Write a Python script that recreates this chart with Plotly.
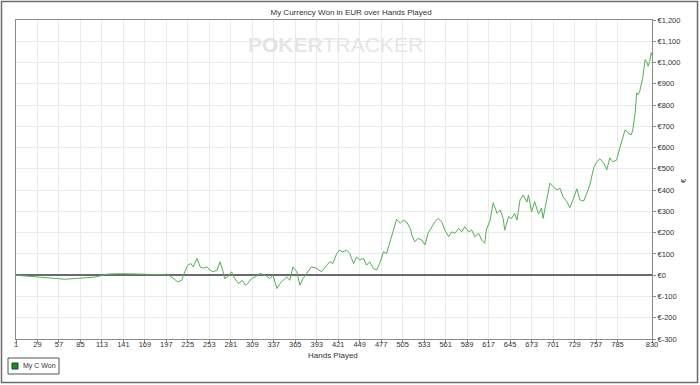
import plotly.graph_objects as go

hands = [1, 19, 39, 65, 84, 104, 120, 137, 163, 189, 198, 204, 212, 217, 221, 225, 229, 232, 237, 241,
         245, 250, 254, 258, 263, 267, 271, 273, 277, 282, 286, 291, 296, 300, 303, 308, 313, 319, 326, 332,
         336, 341, 345, 349, 354, 358, 362, 367, 371, 375, 380, 386, 393, 399, 406, 410, 414, 419, 423, 427,
         432, 436, 441, 445, 449, 454, 458, 462, 467, 471, 475, 480, 484, 488, 493, 497, 502, 506, 510, 515,
         517, 521, 525, 530, 534, 538, 543, 547, 551, 556, 560, 565, 569, 573, 578, 582, 586, 591, 595, 599,
         604, 608, 612, 614, 619, 623, 628, 632, 636, 638, 643, 647, 651, 654, 658, 662, 667, 669, 673, 677,
         682, 686, 688, 693, 697, 701, 706, 710, 714, 719, 723, 727, 732, 736, 741, 745, 749, 754, 758, 762,
         767, 771, 775, 779, 784, 788, 793, 795, 799, 803, 805, 808, 810, 812, 814, 816, 818, 821, 823, 825,
         827, 829, 830]
won = [0, -5, -12, -19, -14, -9, 5, 7, 5, 2, 5, -9, -32, -24, 16, 47, 55, 39, 79, 39,
       33, 39, 24, 16, 24, 63, 16, -16, -8, 16, -16, -39, -24, -47, -39, -16, -8, 8, 0, -16,
       0, -63, -39, -24, -8, -24, 39, 16, -47, -16, 8, 39, 32, 16, 47, 63, 55, 102, 118, 110,
       118, 102, 55, 86, 71, 79, 47, 63, 32, 24, 55, 110, 102, 157, 212, 263, 244, 259, 251, 220,
       189, 157, 173, 165, 142, 197, 228, 251, 267, 251, 212, 181, 204, 197, 220, 204, 228, 204, 212, 181,
       197, 165, 150, 212, 259, 341, 291, 307, 267, 212, 275, 267, 291, 259, 354, 377, 344, 377, 297, 346,
       288, 316, 267, 354, 433, 417, 401, 409, 369, 346, 318, 354, 406, 354, 349, 385, 425, 505, 533, 547,
       528, 495, 552, 533, 542, 598, 660, 684, 668, 660, 684, 763, 857, 849, 865, 904, 929, 1014, 1005, 983,
       1005, 1046, 1033]

x_ticks = [1, 29, 57, 85, 113, 141, 169, 197, 225, 253, 281, 309, 337, 365, 393, 421, 449, 477, 505,
           533, 561, 589, 617, 645, 673, 701, 729, 757, 785, 830]
y_ticks = list(range(-300, 1201, 100))
y_labels = [("€" + f"{v:,}") if v >= 0 else ("€-" + f"{-v:,}") for v in y_ticks]

W, H = 700, 385
L, R, T, B = 16, 48, 20, 46
pw, ph = W - L - R, H - T - B

def px(xp):
    return (xp - L) / pw

def py(yp):
    return (H - B - yp) / ph

fig = go.Figure()
fig.add_trace(go.Scatter(x=hands, y=won, mode="lines",
                         line=dict(color="#52b052", width=1), showlegend=False))

fig.update_layout(
    width=W, height=H,
    margin=dict(l=L, r=R, t=T, b=B, autoexpand=False),
    paper_bgcolor="white", plot_bgcolor="white",
    font=dict(family="Liberation Sans, Arial, sans-serif", size=8, color="#333"),
    title=dict(text="My Currency Won in EUR over Hands Played", x=px(335), xanchor="center",
               y=1 - 12 / H, yanchor="middle", font=dict(size=8, color="#333")),
    xaxis=dict(range=[1, 830], tickvals=x_ticks, ticktext=[str(v) for v in x_ticks],
               showgrid=True, gridcolor="#ebebeb", gridwidth=1,
               showline=True, linecolor="#8a8a8a", linewidth=1, mirror=True,
               ticks="outside", ticklen=3, tickcolor="#8a8a8a", automargin=False,
               ticklabelstandoff=-5,
               zeroline=False, tickfont=dict(size=7.5, color="#333")),
    yaxis=dict(range=[-300, 1200], side="right", tickvals=y_ticks, ticktext=y_labels,
               showgrid=True, gridcolor="#ebebeb", gridwidth=1,
               showline=True, linecolor="#8a8a8a", linewidth=1, mirror=True,
               ticks="outside", ticklen=3, tickcolor="#8a8a8a", automargin=False,
               zeroline=True, zerolinecolor="#6a6a6a", zerolinewidth=1.5,
               tickfont=dict(size=7.5, color="#333")),
    showlegend=False,
)

# x axis title
fig.add_annotation(text="Hands Played", x=px(333), y=py(355), xref="paper", yref="paper",
                   xanchor="center", yanchor="middle",
                   showarrow=False, font=dict(size=8, color="#333"))
# watermark
fig.add_annotation(text="<b>P<span style='color:#e2e2e2'>O</span>KER</b>TRACKER",
                   x=px(335), y=py(45), xref="paper", yref="paper",
                   xanchor="center", yanchor="middle",
                   showarrow=False, font=dict(family="Liberation Sans, Arial", size=21, color="#e6e6e6"))
# right axis unit label
fig.add_annotation(text="€", x=px(683), y=py(181), xref="paper", yref="paper",
                   xanchor="center", yanchor="middle",
                   showarrow=False, textangle=-90, font=dict(size=8, color="#333"))

# legend box
fig.add_shape(type="rect", xref="paper", yref="paper",
              x0=px(8), x1=px(59), y0=py(374), y1=py(358),
              line=dict(color="#555", width=1), fillcolor="white")
fig.add_shape(type="rect", xref="paper", yref="paper",
              x0=px(12), x1=px(18), y0=py(369), y1=py(363),
              line=dict(color="#0d4d14", width=1), fillcolor="#1f8a2a")
fig.add_annotation(text="My C Won", x=px(20.5), y=py(366), xref="paper", yref="paper",
                   xanchor="left", yanchor="middle", showarrow=False,
                   font=dict(size=7, color="#333"))

# outer border
fig.add_shape(type="rect", xref="paper", yref="paper",
              x0=px(1.5), x1=px(697.5), y0=py(382.5), y1=py(1.5),
              line=dict(color="#6b6b6b", width=1.5), fillcolor="rgba(0,0,0,0)", layer="above")

fig.write_html("out.html")
